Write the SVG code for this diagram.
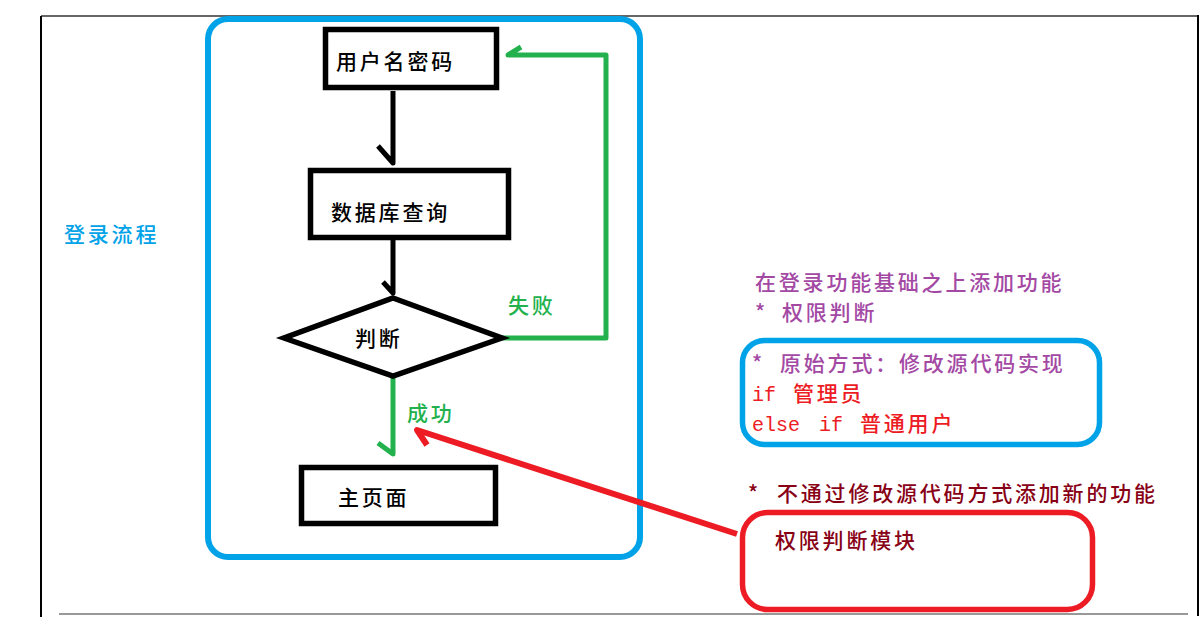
<svg xmlns="http://www.w3.org/2000/svg" width="1204" height="618" viewBox="0 0 1204 618">
<style>
.t{font-family:"Noto Sans CJK SC","Noto Sans",sans-serif;font-size:21px;letter-spacing:2.8px;font-weight:500}
.m{font-family:"Liberation Mono","Noto Sans CJK SC",monospace;font-size:20px;font-weight:normal}
.box{fill:#fff;stroke:#000;stroke-width:5.5}
.blk{fill:none;stroke:#000;stroke-width:5;stroke-linejoin:round}
.grn{fill:none;stroke:#22B14C;stroke-width:5;stroke-linejoin:round}
.red{fill:none;stroke:#ED1C24;stroke-width:6;stroke-linejoin:round}
</style>
<rect width="1204" height="618" fill="#fff"/>
<g id="frame">
<line x1="41" y1="16" x2="1199" y2="16" stroke="#666" stroke-width="2"/>
<line x1="41" y1="16" x2="41" y2="617" stroke="#000" stroke-width="2"/>
<line x1="1198" y1="15" x2="1198" y2="616" stroke="#000" stroke-width="2"/>
<line x1="59" y1="614" x2="1188" y2="614" stroke="#999" stroke-width="2"/>
</g>
<g id="login-group">
<rect x="208" y="19" width="432" height="538" rx="20" fill="none" stroke="#00A2E8" stroke-width="6"/>
<text class="t" x="64" y="241.5" fill="#00A2E8">登录流程</text>
</g>
<g id="connectors">
<path class="blk" d="M393,91 V163 L378,146"/>
<path class="blk" d="M393,240 V293 L383,282"/>
<path class="grn" d="M502,338 H606 V55 H508 L521,47"/>
<path class="grn" d="M393,376 V454 L378,443"/>
<path class="red" d="M737,534 L417,430 L427,445"/>
<text class="t" x="508" y="312.5" fill="#22B14C">失败</text>
<text class="t" x="407" y="420.5" fill="#22B14C">成功</text>
</g>
<g id="node-user">
<rect class="box" x="325.5" y="29.5" width="171" height="58"/>
<text class="t" x="336" y="68.5" fill="#000">用户名密码</text>
</g>
<g id="node-db">
<rect class="box" x="310.5" y="170.5" width="198" height="67"/>
<text class="t" x="331" y="219.5" fill="#000">数据库查询</text>
</g>
<g id="node-judge">
<polygon class="box" points="393,298 502,338 393,376 284,338"/>
<text class="t" x="355" y="345.5" fill="#000">判断</text>
</g>
<g id="node-home">
<rect class="box" x="301.5" y="467.5" width="194" height="56"/>
<text class="t" x="338" y="504.5" fill="#000">主页面</text>
</g>
<g id="note-title">
<text class="t" x="755" y="289.5" fill="#A349A4">在登录功能基础之上添加功能</text>
<text class="t" y="319.5" fill="#A349A4"><tspan x="755">*</tspan><tspan x="782">权限判断</tspan></text>
</g>
<g id="node-original">
<rect x="742.5" y="340.5" width="357" height="104" rx="22" fill="none" stroke="#00A2E8" stroke-width="5.5"/>
<text class="t" y="370.5" fill="#A349A4"><tspan x="752">*</tspan><tspan x="780">原始方式：修改源代码实现</tspan></text>
<text y="400.5" fill="#ED1C24"><tspan class="m" x="752">if</tspan><tspan class="t" x="793">管理员</tspan></text>
<text y="430.5" fill="#ED1C24"><tspan class="m" x="752">else</tspan><tspan class="m" x="819">if</tspan><tspan class="t" x="860">普通用户</tspan></text>
</g>
<g id="note-new">
<text class="t" y="500.5" fill="#880015"><tspan x="748">*</tspan><tspan x="777">不通过修改源代码方式添加新的功能</tspan></text>
</g>
<g id="node-module">
<rect x="742.5" y="512.5" width="350" height="97" rx="25" fill="none" stroke="#ED1C24" stroke-width="5.5"/>
<text class="t" x="775" y="547.5" fill="#880015">权限判断模块</text>
</g>
</svg>
